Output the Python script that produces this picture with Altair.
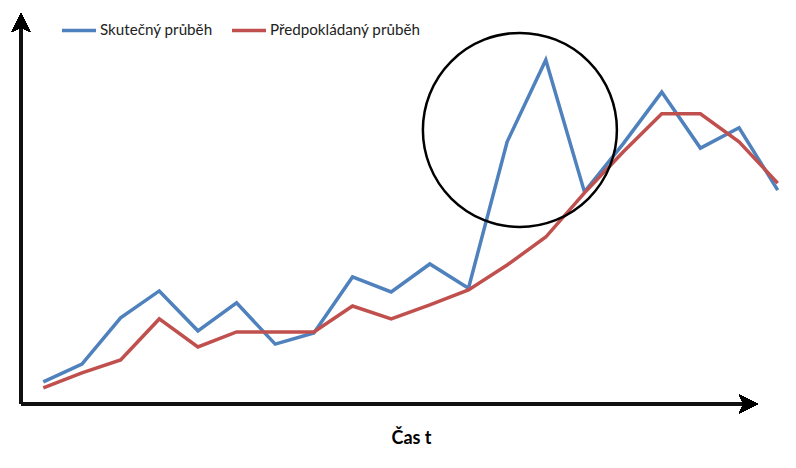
import altair as alt
import pandas as pd

# Time steps and the two series
steps = list(range(20))
actual = [6.3, 11.4, 24.6, 32.3, 20.9, 28.9, 17.1, 20.3, 36.3, 32.0,
          40.0, 33.1, 74.9, 98.3, 60.6, 74.3, 89.1, 73.1, 78.9, 61.1]
expected = [4.6, 8.9, 12.6, 24.3, 16.3, 20.6, 20.6, 20.6, 28.0, 24.3,
            28.3, 32.6, 39.7, 47.7, 60.3, 72.0, 82.9, 82.9, 74.9, 63.1]

series_names = ["Skutečný průběh", "Předpokládaný průběh"]
series_colors = ["#4F81BD", "#C0504D"]

# Highlighted anomaly (centre of the ring)
ring_step = [12.33]
ring_value = [78.3]

W, H = 737, 391

df_actual = pd.DataFrame({"t": steps, "v": actual, "s": series_names[0]})
df_expected = pd.DataFrame({"t": steps, "v": expected, "s": series_names[1]})
df_ring = pd.DataFrame({"t": ring_step, "v": ring_value})

x_scale = alt.Scale(domain=[-0.577, 18.49], nice=False, zero=False)
y_scale = alt.Scale(domain=[0, 111.7], nice=False, zero=False)
color_scale = alt.Scale(domain=series_names, range=series_colors)

x_axis = alt.Axis(domain=False, ticks=False, labels=False, grid=False,
                  titleFont="Lato", titleFontSize=18, titleFontWeight="bold",
                  titleColor="#000000", titleX=390, titleY=39,
                  titleAlign="center", titleBaseline="alphabetic")

legend = alt.Legend(orient="none", legendX=39, legendY=-2, direction="horizontal",
                    title=None, symbolType="stroke", symbolSize=1156,
                    symbolStrokeWidth=3.5, labelFont="Lato", labelFontSize=15.2,
                    labelColor="#222222", labelOffset=2, columnPadding=12,
                    padding=0)


def series_line(frame):
    return alt.Chart(frame).mark_line(strokeWidth=3.5).encode(
        x=alt.X("t:Q", scale=x_scale, axis=x_axis, title="Čas t"),
        y=alt.Y("v:Q", scale=y_scale, axis=None),
        color=alt.Color("s:N", scale=color_scale, legend=legend),
    )


base = alt.Chart(df_actual)

y_axis_line = base.mark_rule(color="#111111", strokeWidth=2.5).encode(
    x=alt.value(0), y=alt.value(H), y2=alt.value(12))
x_axis_line = base.mark_rule(color="#111111", strokeWidth=2.5).encode(
    x=alt.value(0), x2=alt.value(W - 10), y=alt.value(H))

up_arrow = base.mark_point(
    shape="M0,-1L1,1L0,0.55L-1,1Z", size=361, filled=True, opacity=1,
    color="#000000").encode(x=alt.value(0), y=alt.value(9.5))
right_arrow = base.mark_point(
    shape="M1,0L-1,1L-0.55,0L-1,-1Z", size=361, filled=True, opacity=1,
    color="#000000").encode(x=alt.value(W - 9.5), y=alt.value(H))

ring = alt.Chart(df_ring).mark_point(
    shape="circle", size=37636, filled=False, stroke="#000000",
    strokeWidth=2.5, opacity=1).encode(
    x=alt.X("t:Q", scale=x_scale),
    y=alt.Y("v:Q", scale=y_scale),
)

chart = alt.layer(
    series_line(df_actual),
    series_line(df_expected),
    y_axis_line, x_axis_line, up_arrow, right_arrow, ring,
).properties(
    width=W, height=H,
    autosize=alt.AutoSizeParams(type="none"),
    padding={"left": 21, "top": 13, "right": 38, "bottom": 64},
    background="#ffffff",
).configure_view(stroke=None)

chart.save("out.html", embed_options={"renderer": "svg", "actions": False})
